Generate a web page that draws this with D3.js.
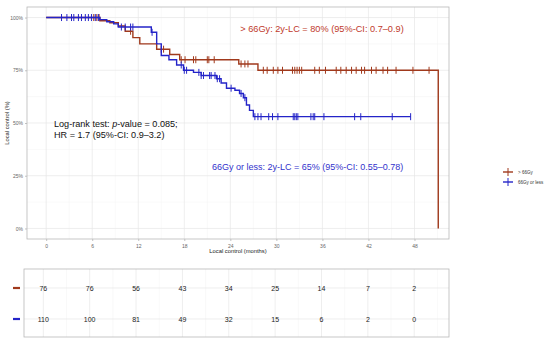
<!DOCTYPE html>
<html><head><meta charset="utf-8">
<script src="https://cdn.jsdelivr.net/npm/d3@7"></script>
<style>body{margin:0;background:#fff}svg{display:block;font-family:"Liberation Sans",Arial,sans-serif}</style>
</head><body><svg id="c" width="550" height="342"></svg>
<script>
// ---- data ----
const groups = ["> 66Gy", "66Gy or less"];
const colors = ["#A0391C", "#2424C8"];
const xTicks = [0, 6, 12, 18, 24, 30, 36, 42, 48];
const yTicks = [0, 0.25, 0.5, 0.75, 1];
const yTickLabels = ["0%", "25%", "50%", "75%", "100%"];
// step curves (time, survival)
const redTimes = [0, 7.0, 8.3, 9.4, 10.3, 11.3, 12.2, 14.4, 16.1, 17.4, 25.1, 27.6, 51.1];
const redSurv  = [1, 0.985, 0.975, 0.96, 0.935, 0.905, 0.875, 0.85, 0.825, 0.80, 0.78, 0.75, 0];
const redEnd = 51.1;
const redCensor = [6.2, 6.6, 6.9, 11.0, 15.0, 15.3, 17.6, 18.1, 19.2, 19.5, 21.0, 21.2, 21.9, 25.4, 25.9, 26.3, 28.3, 28.8, 29.6, 30.2, 30.8, 32.1, 32.4, 32.7, 33.0, 33.3, 35.0, 35.6, 36.4, 37.8, 38.4, 39.1, 39.8, 40.4, 41.1, 41.5, 42.4, 43.0, 43.9, 44.5, 45.6, 47.8, 49.9];
const blueTimes = [0, 7.0, 7.9, 8.8, 9.4, 13.7, 14.4, 15.0, 16.0, 17.0, 17.9, 19.2, 20.2, 22.2, 22.8, 23.5, 24.6, 25.2, 25.7, 26.1, 26.5, 27.0];
const blueSurv  = [1, 0.99, 0.98, 0.97, 0.955, 0.93, 0.875, 0.82, 0.80, 0.775, 0.75, 0.74, 0.725, 0.71, 0.69, 0.665, 0.655, 0.64, 0.62, 0.585, 0.56, 0.53];
const blueEnd = 47.5;
const blueCensor = [2.0, 2.7, 3.3, 3.6, 4.2, 4.6, 5.1, 5.5, 5.9, 6.4, 6.8, 9.8, 10.3, 11.0, 11.3, 13.8, 17.6, 18.0, 18.3, 19.9, 20.2, 20.5, 21.3, 21.5, 22.0, 22.3, 22.6, 24.1, 25.4, 25.9, 27.2, 27.6, 28.0, 29.0, 29.5, 30.2, 32.2, 32.4, 32.6, 32.8, 34.5, 34.8, 35.0, 36.2, 40.2, 41.0, 45.1, 47.5];
const riskTimes = [0, 6, 12, 18, 24, 30, 36, 42, 48];
const riskRed  = [76, 76, 56, 43, 34, 25, 14, 7, 2];
const riskBlue = [110, 100, 81, 49, 32, 15, 6, 2, 0];

const series = [
  {times: redTimes, surv: redSurv, end: redEnd, censor: redCensor, color: colors[0]},
  {times: blueTimes, surv: blueSurv, end: blueEnd, censor: blueCensor, color: colors[1]}
];

const svg = d3.select("#c");
const gridMaj = "#E6E6E6", gridMin = "#F2F2F2", border = "#B8B8B8";

// ---- main panel ----
const P = {l: 27, r: 449, t: 7, b: 239};
const x = d3.scaleLinear().domain([-2.5, 52.5]).range([P.l, P.r]);
const y = d3.scaleLinear().domain([-0.05, 1.05]).range([P.b, P.t]);
const g = svg.append("g");
const xMinor = d3.range(3, 52, 6), yMinor = [0.125, 0.375, 0.625, 0.875];
g.selectAll(".vmin").data(xMinor).join("line").attr("x1", d=>x(d)).attr("x2", d=>x(d)).attr("y1", P.t).attr("y2", P.b).attr("stroke", gridMin).attr("stroke-width", 0.5);
g.selectAll(".hmin").data(yMinor).join("line").attr("y1", d=>y(d)).attr("y2", d=>y(d)).attr("x1", P.l).attr("x2", P.r).attr("stroke", gridMin).attr("stroke-width", 0.5);
g.selectAll(".vmaj").data(xTicks).join("line").attr("x1", d=>x(d)).attr("x2", d=>x(d)).attr("y1", P.t).attr("y2", P.b).attr("stroke", gridMaj).attr("stroke-width", 0.7);
g.selectAll(".hmaj").data(yTicks).join("line").attr("y1", d=>y(d)).attr("y2", d=>y(d)).attr("x1", P.l).attr("x2", P.r).attr("stroke", gridMaj).attr("stroke-width", 0.7);

// axes
const xAxis = d3.axisBottom(x).tickValues(xTicks).tickSize(2).tickPadding(3);
const yAxis = d3.axisLeft(y).tickValues(yTicks).tickFormat((d,i)=>yTickLabels[i]).tickSize(2).tickPadding(2);
const gx = svg.append("g").attr("transform", `translate(0,${P.b})`).call(xAxis);
const gy = svg.append("g").attr("transform", `translate(${P.l},0)`).call(yAxis);
[gx, gy].forEach(a => {
  a.select(".domain").remove();
  a.selectAll(".tick line").attr("stroke", "#999").attr("stroke-width", 0.6);
  a.selectAll(".tick text").attr("fill", "#666").attr("font-size", 5).attr("font-family", "Liberation Sans, Arial, sans-serif");
});

// curves
series.forEach(s => {
  const pts = s.times.map((t,i)=>[t, s.surv[i]]);
  pts.push([s.end, s.surv[s.surv.length-1]]);
  const line = d3.line().x(d=>x(d[0])).y(d=>y(d[1])).curve(d3.curveStepAfter);
  svg.append("path").attr("d", line(pts)).attr("fill", "none").attr("stroke", s.color).attr("stroke-width", 1.4);
  const survAt = t => { let v = 1; s.times.forEach((tt,i)=>{ if (tt <= t) v = s.surv[i]; }); return v; };
  svg.append("g").selectAll("line").data(s.censor).join("line")
    .attr("x1", d=>x(d)).attr("x2", d=>x(d))
    .attr("y1", d=>y(survAt(d))-3.5).attr("y2", d=>y(survAt(d))+3.5)
    .attr("stroke", s.color).attr("stroke-width", 1);
});

svg.append("rect").attr("x", P.l).attr("y", P.t).attr("width", P.r-P.l).attr("height", P.b-P.t).attr("fill", "none").attr("stroke", border).attr("stroke-width", 0.8);

// annotations
svg.append("text").attr("x", 322).attr("y", 31.5).attr("text-anchor", "middle").attr("font-size", 9.2).attr("fill", "#C0392B").text("> 66Gy: 2y-LC = 80% (95%-CI: 0.7–0.9)");
const lr = svg.append("text").attr("x", 54).attr("y", 126.5).attr("font-size", 9.1).attr("fill", "#111");
lr.append("tspan").text("Log-rank test: ");
lr.append("tspan").attr("font-style", "italic").text("p");
lr.append("tspan").text("-value = 0.085;");
svg.append("text").attr("x", 54).attr("y", 137.5).attr("font-size", 9.1).attr("fill", "#111").text("HR = 1.7 (95%-CI: 0.9–3.2)");
svg.append("text").attr("x", 212).attr("y", 169.5).attr("font-size", 9.0).attr("fill", "#3232CC").text("66Gy or less: 2y-LC = 65% (95%-CI: 0.55–0.78)");

// axis titles
svg.append("text").attr("x", (P.l+P.r)/2).attr("y", 253).attr("text-anchor", "middle").attr("font-size", 5.8).attr("fill", "#222").text("Local control (months)");
svg.append("text").attr("transform", `translate(9,${(P.t+P.b)/2}) rotate(-90)`).attr("text-anchor", "middle").attr("font-size", 5.8).attr("fill", "#222").text("Local control (%)");

// legend
const lg = svg.append("g");
groups.forEach((name, i) => {
  const ly = 172 + i*10;
  lg.append("line").attr("x1", 503).attr("x2", 513).attr("y1", ly).attr("y2", ly).attr("stroke", colors[i]).attr("stroke-width", 1.4);
  lg.append("line").attr("x1", 508).attr("x2", 508).attr("y1", ly-4).attr("y2", ly+4).attr("stroke", colors[i]).attr("stroke-width", 1);
  lg.append("text").attr("x", 518).attr("y", ly+1.6).attr("font-size", 4.5).attr("fill", "#333").text(name);
});

// ---- risk table ----
const T = {l: 24, r: 449, t: 269, b: 337};
const xt = d3.scaleLinear().domain([-2.5, 52.5]).range([T.l, T.r]);
const yt = d3.scalePoint().domain(groups).range([288, 319]);
const tg = svg.append("g");
tg.selectAll(".vmin").data(xMinor).join("line").attr("x1", d=>xt(d)).attr("x2", d=>xt(d)).attr("y1", T.t).attr("y2", T.b).attr("stroke", gridMin).attr("stroke-width", 0.5);
tg.selectAll(".vmaj").data(xTicks).join("line").attr("x1", d=>xt(d)).attr("x2", d=>xt(d)).attr("y1", T.t).attr("y2", T.b).attr("stroke", gridMaj).attr("stroke-width", 0.7);
tg.selectAll(".hmaj").data(groups).join("line").attr("y1", d=>yt(d)).attr("y2", d=>yt(d)).attr("x1", T.l).attr("x2", T.r).attr("stroke", gridMaj).attr("stroke-width", 0.7);
tg.append("rect").attr("x", T.l).attr("y", T.t).attr("width", T.r-T.l).attr("height", T.b-T.t).attr("fill", "none").attr("stroke", border).attr("stroke-width", 0.8);
[riskRed, riskBlue].forEach((arr, gi) => {
  tg.append("g").selectAll("text").data(arr).join("text")
    .attr("x", (d,i)=>xt(riskTimes[i])).attr("y", yt(groups[gi])+2.5)
    .attr("text-anchor", "middle").attr("font-size", 7).attr("fill", "#222").text(d=>d);
  tg.append("line").attr("x1", 13).attr("x2", 20).attr("y1", yt(groups[gi])).attr("y2", yt(groups[gi])).attr("stroke", colors[gi]).attr("stroke-width", 2.2);
});
</script></body></html>
